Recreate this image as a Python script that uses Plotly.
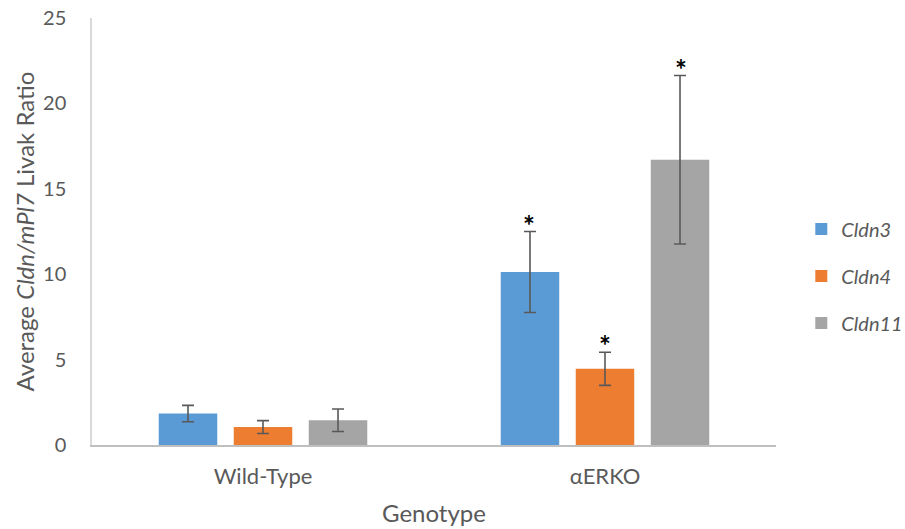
import plotly.graph_objects as go

# Genotype groups and gene series
genotypes = ["Wild-Type", "αERKO"]
genes = ["Cldn3", "Cldn4", "Cldn11"]

# Mean Livak ratio per gene, in genotype order
cldn3_mean = [1.84, 10.13]
cldn4_mean = [1.05, 4.46]
cldn11_mean = [1.45, 16.70]

# Error (± half-range) per gene, in genotype order
cldn3_err = [0.48, 2.37]
cldn4_err = [0.38, 0.97]
cldn11_err = [0.66, 4.93]

# Significance flags per gene, in genotype order
cldn3_sig = [False, True]
cldn4_sig = [False, True]
cldn11_sig = [False, True]

colors = ["#5B9BD5", "#ED7D31", "#A5A5A5"]
means = [cldn3_mean, cldn4_mean, cldn11_mean]
errs = [cldn3_err, cldn4_err, cldn11_err]
sigs = [cldn3_sig, cldn4_sig, cldn11_sig]

FONT = "Lato, 'Open Sans', sans-serif"
TXT = "#595959"

fig = go.Figure()
for i, gene in enumerate(genes):
    fig.add_trace(go.Bar(
        name=f"<i>{gene}</i>",
        x=genotypes,
        y=means[i],
        marker=dict(color=colors[i], line=dict(width=0)),
        error_y=dict(type="data", array=errs[i], visible=True,
                     color="#595959", thickness=1.6, width=6),
        legendgroup=gene,
    ))

# Significance asterisks above the upper error caps
offsets = [-1, 0, 1]
for i in range(len(genes)):
    for j, g in enumerate(genotypes):
        if sigs[i][j]:
            fig.add_annotation(
                x=g, y=means[i][j] + errs[i][j],
                text="<b>*</b>", showarrow=False,
                xref="x", yref="y",
                xshift=offsets[i] * 76,
                yshift=7,
                font=dict(family=FONT, size=28, color="#000000"),
            )

fig.update_layout(
    width=905, height=529,
    margin=dict(l=92, r=129, t=18, b=84, autoexpand=False),
    paper_bgcolor="white", plot_bgcolor="white",
    barmode="group", bargap=0.342, bargroupgap=0.22,
    font=dict(family=FONT, size=20, color=TXT),
    showlegend=True,
    legend=dict(x=1.037, y=0.396, xanchor="left", yanchor="middle",
                font=dict(family=FONT, size=20, color=TXT),
                tracegroupgap=18, itemwidth=30,
                bgcolor="rgba(0,0,0,0)"),
    xaxis=dict(
        automargin=False,
        showline=True, linecolor="#BFBFBF", linewidth=1.5,
        ticks="", showgrid=False, zeroline=False,
        tickfont=dict(family=FONT, size=22, color=TXT),
        ticklabelstandoff=11,
        title=dict(text="Genotype", standoff=17,
                   font=dict(family=FONT, size=24, color=TXT)),
    ),
    yaxis=dict(
        automargin=False,
        range=[0, 25], dtick=5,
        showline=True, linecolor="#D9D9D9", linewidth=1.5,
        ticks="", showgrid=False, zeroline=False,
        tickfont=dict(family=FONT, size=20, color=TXT),
        ticklabelstandoff=20,
        title=dict(text="Average <i>Cldn/mPl7</i> Livak Ratio", standoff=2,
                   font=dict(family=FONT, size=24, color=TXT)),
    ),
)

fig.write_html("out.html")
